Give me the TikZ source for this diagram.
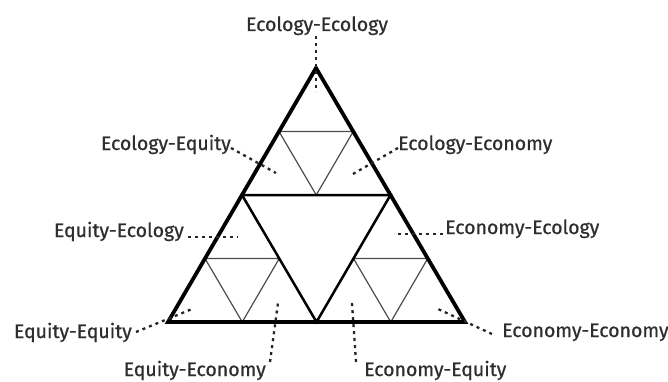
\documentclass[tikz,border=0pt]{standalone}
\usepackage{fontspec}
\setmainfont{Fira Sans}
\newfontfamily\lblfont{Fira Sans}[FakeBold=0.7]
\usetikzlibrary{calc}
\begin{document}
\begin{tikzpicture}[x=1pt,y=-1pt,
  lbl/.style={font=\lblfont\fontsize{19.5}{22}\selectfont, text=black!82, inner sep=0pt},
  outer/.style={line width=3.8pt, line join=miter},
  mid/.style={line width=2.5pt},
  inner/.style={line width=1.2pt, draw=black!70},
  leader/.style={line width=2.3pt, dash pattern=on 3pt off 4pt, draw=black!85}]
\useasboundingbox[fill=white] (0,0) rectangle (668,382);
% corners
\coordinate (A) at (316,68);
\coordinate (B) at (168,322);
\coordinate (C) at (465,322);
\coordinate (AB) at ($(A)!0.5!(B)$);
\coordinate (AC) at ($(A)!0.5!(C)$);
\coordinate (BC) at ($(B)!0.5!(C)$);
% inner (second level) triangles
\coordinate (a1) at ($(A)!0.5!(AB)$);
\coordinate (a2) at ($(A)!0.5!(AC)$);
\coordinate (a3) at ($(AB)!0.5!(AC)$);
\coordinate (b1) at ($(AB)!0.5!(B)$);
\coordinate (b2) at ($(AB)!0.5!(BC)$);
\coordinate (b3) at ($(B)!0.5!(BC)$);
\coordinate (c1) at ($(AC)!0.5!(BC)$);
\coordinate (c2) at ($(AC)!0.5!(C)$);
\coordinate (c3) at ($(BC)!0.5!(C)$);
\draw[inner] (a1) -- (a2) -- (a3) -- cycle;
\draw[inner] (b1) -- (b2) -- (b3) -- cycle;
\draw[inner] (c1) -- (c2) -- (c3) -- cycle;
\draw[mid] (AB) -- (AC) -- (BC) -- cycle;
\draw[outer] (A) -- (B) -- (C) -- cycle;
% labels
\node[lbl, anchor=base] (ecoeco) at (317,31) {Ecology-Ecology};
\node[lbl, anchor=base east] (ecoeq) at (231,150) {Ecology-Equity};
\node[lbl, anchor=base west] (ecoecon) at (398,150) {Ecology-Economy};
\node[lbl, anchor=base east] (eqeco) at (184,237) {Equity-Ecology};
\node[lbl, anchor=base west] (econeco) at (445,234) {Economy-Ecology};
\node[lbl, anchor=base east] (eqeq) at (132,338) {Equity-Equity};
\node[lbl, anchor=base west] (econecon) at (502,337) {Economy-Economy};
\node[lbl, anchor=base east] (eqecon) at (266,376) {Equity-Economy};
\node[lbl, anchor=base west] (econeq) at (364,376) {Economy-Equity};
% leader ends
\coordinate (e1) at (316,92);
\coordinate (e2) at (276,173);
\coordinate (e3) at (353,174);
\coordinate (e4) at (238,237);
\coordinate (e5) at (394,234);
\coordinate (e6) at (192,309);
\coordinate (e7) at (278,303);
\coordinate (e8) at (352,303);
\coordinate (e9) at (438,309);
\coordinate (s1) at (316,36);
\coordinate (s2) at (231,148);
\coordinate (s3) at (398,148);
\coordinate (s4) at (188,237);
\coordinate (s5) at (443,234);
\coordinate (s6) at (136,332);
\coordinate (s7) at (270,362);
\coordinate (s8) at (356,362);
\coordinate (s9) at (492,334);
\draw[leader] (s1) -- (e1);
\draw[leader] (s2) -- (e2);
\draw[leader] (s3) -- (e3);
\draw[leader] (s4) -- (e4);
\draw[leader] (s5) -- (e5);
\draw[leader] (s6) -- (e6);
\draw[leader] (s7) -- (e7);
\draw[leader] (s8) -- (e8);
\draw[leader] (s9) -- (e9);
\end{tikzpicture}
\end{document}
